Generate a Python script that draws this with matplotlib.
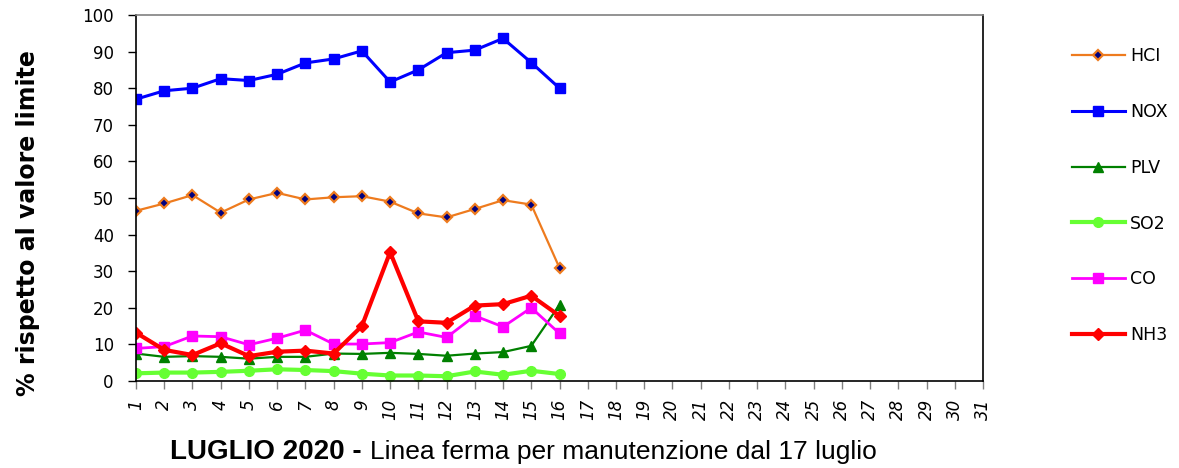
import matplotlib
matplotlib.use("Agg")
import matplotlib.pyplot as plt
from matplotlib.ticker import MultipleLocator

days = list(range(1, 17))
all_days = list(range(1, 32))

hcl = [46.5, 48.5, 50.8, 46.0, 49.6, 51.4, 49.6, 50.2, 50.5, 49.0, 45.8, 44.7, 47.0, 49.4, 48.2, 30.9]
nox = [77.0, 79.3, 80.0, 82.6, 82.1, 83.8, 86.9, 88.0, 90.2, 81.7, 85.0, 89.7, 90.4, 93.6, 87.0, 80.0]
plv = [7.5, 6.6, 6.8, 6.6, 6.1, 6.6, 6.6, 7.5, 7.4, 7.7, 7.4, 6.9, 7.5, 7.9, 9.6, 20.8]
so2 = [2.1, 2.3, 2.3, 2.5, 2.8, 3.2, 3.0, 2.7, 2.0, 1.5, 1.5, 1.3, 2.6, 1.7, 2.8, 1.9]
co = [8.9, 9.4, 12.3, 12.1, 9.9, 11.7, 13.9, 10.1, 10.1, 10.5, 13.4, 11.9, 17.8, 14.8, 20.0, 13.0]
nh3 = [13.2, 8.5, 7.1, 10.3, 6.8, 8.0, 8.3, 7.5, 15.0, 35.2, 16.3, 15.9, 20.6, 21.0, 23.3, 17.8]

series_names = ["HCI", "NOX", "PLV", "SO2", "CO", "NH3"]

fig = plt.figure(figsize=(11.79, 4.68), dpi=100)
ax = fig.add_axes([136/1179, 1-381/468, (983-136)/1179, (381-15)/468])

h1, = ax.plot(days, hcl, color='#EE7B1E', lw=1.6, marker='D', ms=5,
              mfc='#000080', mec='#EE7B1E', mew=1.6, label=series_names[0])
h2, = ax.plot(days, nox, color='#0000FF', lw=2.2, marker='s', ms=7,
              mfc='#0000FF', mec='#0000FF', label=series_names[1])
h3, = ax.plot(days, plv, color='#008000', lw=1.6, marker='^', ms=7.5,
              mfc='#008000', mec='#008000', label=series_names[2])
h4, = ax.plot(days, so2, color='#66FF33', lw=3.0, marker='o', ms=7,
              mfc='#66FF33', mec='#66FF33', label=series_names[3])
h5, = ax.plot(days, co, color='#FF00FF', lw=2.0, marker='s', ms=7,
              mfc='#FF00FF', mec='#FF00FF', label=series_names[4])
h6, = ax.plot(days, nh3, color='#FF0000', lw=3.0, marker='D', ms=6,
              mfc='#FF0000', mec='#FF0000', label=series_names[5])

ax.set_xlim(1, 31)
ax.set_ylim(0, 100)
ax.yaxis.set_major_locator(MultipleLocator(10))
ax.set_xticks(all_days)
ax.set_xticklabels([str(d) for d in all_days], rotation=90, fontstyle='italic', fontsize=12)
ax.tick_params(axis='y', labelsize=12, direction='out', length=6, width=1, pad=10)
ax.tick_params(axis='x', direction='out', length=6, width=1, pad=7, color='#808080')
for s in ['left', 'bottom', 'right']:
    ax.spines[s].set_color('black')
ax.spines['top'].set_color('#808080')
for s in ax.spines.values():
    s.set_linewidth(1.2)

fig.text(28/1179, 1-223/468, "% rispetto al valore limite", rotation=90,
         fontsize=17, fontweight='bold', ha='center', va='center')
fig.text(362/1179, 1-452/468, "LUGLIO 2020 -", fontsize=20, fontweight='bold',
         family=['Liberation Sans', 'DejaVu Sans'], ha='right', va='center')
fig.text(370/1179, 1-452/468, "Linea ferma per manutenzione dal 17 luglio", fontsize=19,
         family=['Liberation Sans', 'DejaVu Sans'], ha='left', va='center')

fig.legend(handles=[h1, h2, h3, h4, h5, h6], loc='upper left',
           bbox_to_anchor=(1072/1179, 1-47/468), frameon=False, fontsize=12.5,
           handlelength=3.05, handletextpad=0.29, labelspacing=2.18,
           borderpad=0, borderaxespad=0, markerscale=1.0)

fig.savefig("out.png", dpi=100)
